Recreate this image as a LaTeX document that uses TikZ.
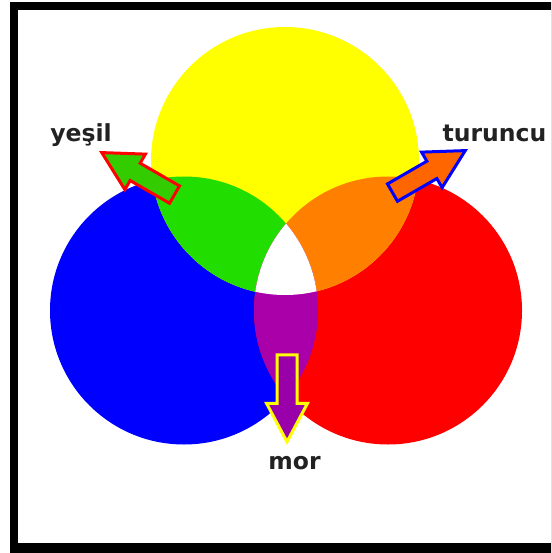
\documentclass[tikz,border=0pt]{standalone}
\usepackage{fontspec}
\setmainfont{DejaVu Sans}
\usetikzlibrary{shapes.arrows}
\definecolor{mixYellow}{HTML}{FFFF00}
\definecolor{mixBlue}{HTML}{0000FF}
\definecolor{mixRed}{HTML}{FF0000}
\definecolor{mixGreen}{HTML}{22DD00}
\definecolor{mixOrange}{HTML}{FF8000}
\definecolor{mixPurple}{HTML}{AA00AA}
\definecolor{arrGreen}{HTML}{33CC00}
\definecolor{arrOrange}{HTML}{FF6600}
\definecolor{arrPurple}{HTML}{9900AA}
\definecolor{textDark}{HTML}{222222}
\tikzset{
  blockArrow/.style={single arrow, line width=3pt, inner sep=0pt, inner ysep=8.5pt,
                     minimum height=84pt, single arrow head extend=10.5pt,
                     single arrow tip angle=56, anchor=tip},
  arrowG/.style={blockArrow, draw=mixRed, fill=arrGreen},
  arrowO/.style={blockArrow, draw=mixBlue, fill=arrOrange},
  arrowP/.style={blockArrow, draw=mixYellow, fill=arrPurple},
  mixText/.style={font=\bfseries\fontsize{23.5}{27}\selectfont, text=textDark,
                  inner sep=0pt, anchor=base},
}

\begin{document}
\begin{tikzpicture}[x=1pt, y=-1pt]
    \useasboundingbox (0,0) rectangle (551,553);
    \clip (0,0) rectangle (551,553);
    % frame
    \fill[black] (9.5,2.5) rectangle (600,600);
    \fill[white] (17.5,10.5) rectangle (600,543);
    % circle centres
    \coordinate (yc) at (285,161);
    \coordinate (bc) at (184,310.5);
    \coordinate (rc) at (388,310.5);
    \fill[mixBlue]   (bc) circle[radius=134pt];
    \fill[mixRed]    (rc) circle[radius=134pt];
    \fill[mixYellow] (yc) circle[radius=134pt];
    % overlaps
    \begin{scope}
      \clip (yc) circle[radius=134pt];
      \fill[mixGreen]  (bc) circle[radius=134pt];
      \fill[mixOrange] (rc) circle[radius=134pt];
    \end{scope}
    \begin{scope}
      \clip (bc) circle[radius=134pt];
      \fill[mixPurple] (rc) circle[radius=134pt];
      \clip (rc) circle[radius=134pt];
      \fill[white] (yc) circle[radius=134pt];
    \end{scope}
    % arrows and names
    \node[arrowG, rotate=150] (gArrow) at (99,151) {};
    \node[arrowO, rotate=30]  (oArrow) at (468,149) {};
    \node[arrowP, rotate=-90, minimum height=87pt] (pArrow) at (287,445) {};
    \node[mixText] (yesil)   at (81,142)    {yeşil};
    \node[mixText] (turuncu) at (494.5,142) {turuncu};
    \node[mixText] (mor)     at (294.5,469) {mor};
\end{tikzpicture}
\end{document}
